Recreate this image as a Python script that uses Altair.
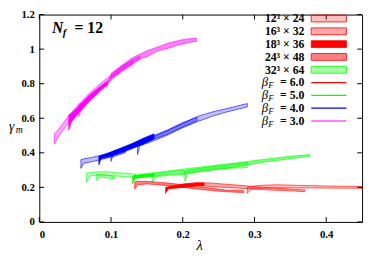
import altair as alt
import pandas as pd

# ---------------- data ----------------
betas = ["6.0", "5.0", "4.0", "3.0"]
beta_colors = ["#ff0000", "#00ff00", "#0000ff", "#ff00ff"]
volumes = ["12³ × 24", "16³ × 32", "18³ × 36", "24³ × 48", "32³ × 64"]
vol_opacity = [0.25, 0.35, 1.0, 0.5, 0.35]
vol_legend_beta = ["6.0", "6.0", "6.0", "6.0", "5.0"]

x_ticks = [0, 0.1, 0.2, 0.3, 0.4]
y_ticks = [0, 0.2, 0.4, 0.6, 0.8, 1.0, 1.2]

# beta_F = 3.0 (magenta)
m1_lam = [0.021, 0.026, 0.04, 0.055, 0.07, 0.085, 0.1, 0.115, 0.13]
m1_lo = [0.45, 0.49, 0.57, 0.64, 0.71, 0.77, 0.82, 0.87, 0.91]
m1_hi = [0.51, 0.53, 0.61, 0.68, 0.745, 0.80, 0.85, 0.895, 0.935]
m2_lam = [0.041, 0.045, 0.055, 0.07, 0.085, 0.095]
m2_lo = [0.53, 0.58, 0.63, 0.70, 0.76, 0.795]
m2_hi = [0.62, 0.63, 0.67, 0.735, 0.785, 0.815]
m3_lam = [0.055, 0.06, 0.075, 0.09]
m3_lo = [0.61, 0.66, 0.72, 0.775]
m3_hi = [0.68, 0.69, 0.745, 0.795]
m4_lam = [0.093, 0.1, 0.115, 0.13, 0.14, 0.15, 0.16, 0.17, 0.18, 0.19, 0.2, 0.21, 0.219]
m4_lo = [0.78, 0.83, 0.88, 0.92, 0.945, 0.955, 0.98, 0.995, 1.005, 1.02, 1.03, 1.04, 1.045]
m4_hi = [0.80, 0.85, 0.905, 0.95, 0.97, 0.99, 1.005, 1.02, 1.035, 1.045, 1.055, 1.06, 1.063]
m5_lam = [0.1, 0.11, 0.12, 0.13, 0.14]
m5_lo = [0.83, 0.86, 0.89, 0.915, 0.94]
m5_hi = [0.86, 0.89, 0.915, 0.94, 0.96]

# beta_F = 4.0 (blue)
b1_lam = [0.058, 0.062, 0.075, 0.09, 0.105, 0.12]
b1_lo = [0.31, 0.34, 0.35, 0.365, 0.38, 0.40]
b1_hi = [0.36, 0.365, 0.375, 0.39, 0.41, 0.43]
b2_lam = [0.083, 0.086, 0.1, 0.115, 0.13, 0.145, 0.16]
b2_lo = [0.33, 0.365, 0.38, 0.40, 0.425, 0.45, 0.48]
b2_hi = [0.38, 0.385, 0.405, 0.43, 0.455, 0.485, 0.51]
b3_lam = [0.1, 0.103, 0.12, 0.14, 0.16, 0.18, 0.2, 0.22]
b3_lo = [0.35, 0.39, 0.415, 0.445, 0.48, 0.51, 0.55, 0.585]
b3_hi = [0.40, 0.41, 0.435, 0.47, 0.50, 0.535, 0.575, 0.605]
b4_lam = [0.137, 0.14, 0.16, 0.18, 0.2, 0.22, 0.24, 0.26, 0.275, 0.29]
b4_lo = [0.39, 0.44, 0.47, 0.505, 0.545, 0.58, 0.61, 0.635, 0.65, 0.665]
b4_hi = [0.44, 0.46, 0.495, 0.53, 0.57, 0.61, 0.635, 0.655, 0.67, 0.685]

# beta_F = 5.0 (green)
g1_lam = [0.066, 0.07, 0.08, 0.095, 0.11, 0.125, 0.135]
g1_lo = [0.23, 0.265, 0.27, 0.27, 0.265, 0.26, 0.255]
g1_hi = [0.285, 0.285, 0.29, 0.29, 0.285, 0.28, 0.275]
g2_lam = [0.08, 0.084, 0.095, 0.105]
g2_lo = [0.24, 0.26, 0.255, 0.25]
g2_hi = [0.275, 0.275, 0.27, 0.262]
g3_lam = [0.13, 0.133, 0.145, 0.16]
g3_lo = [0.22, 0.25, 0.26, 0.265]
g3_hi = [0.265, 0.27, 0.275, 0.28]
g4_lam = [0.14, 0.16, 0.18, 0.2, 0.22, 0.24, 0.26, 0.29]
g4_lo = [0.255, 0.265, 0.275, 0.28, 0.29, 0.30, 0.31, 0.315]
g4_hi = [0.275, 0.285, 0.295, 0.305, 0.315, 0.325, 0.335, 0.345]
g5_lam = [0.158, 0.162, 0.18, 0.203]
g5_lo = [0.23, 0.26, 0.27, 0.275]
g5_hi = [0.275, 0.28, 0.29, 0.30]
g6_lam = [0.203, 0.207, 0.23, 0.26, 0.29, 0.32, 0.35, 0.377]
g6_lo = [0.235, 0.28, 0.295, 0.31, 0.33, 0.35, 0.365, 0.38]
g6_hi = [0.29, 0.30, 0.315, 0.33, 0.35, 0.365, 0.38, 0.39]

# beta_F = 6.0 (red)
r1_lam = [0.133, 0.137, 0.15, 0.165, 0.18, 0.2, 0.22, 0.24, 0.26, 0.285]
r1_lo = [0.19, 0.215, 0.22, 0.215, 0.21, 0.20, 0.19, 0.182, 0.175, 0.17]
r1_hi = [0.232, 0.235, 0.235, 0.23, 0.225, 0.215, 0.205, 0.195, 0.185, 0.18]
r2_lam = [0.176, 0.18, 0.19, 0.2, 0.21, 0.22, 0.23]
r2_lo = [0.165, 0.19, 0.195, 0.20, 0.205, 0.21, 0.21]
r2_hi = [0.20, 0.205, 0.212, 0.218, 0.222, 0.225, 0.225]
r3_lam = [0.2, 0.22, 0.24, 0.26, 0.28, 0.3, 0.32, 0.35, 0.37]
r3_lo = [0.20, 0.21, 0.205, 0.20, 0.195, 0.19, 0.185, 0.18, 0.175]
r3_hi = [0.22, 0.228, 0.225, 0.218, 0.212, 0.205, 0.198, 0.19, 0.185]
r4_lam = [0.29, 0.295, 0.31, 0.33, 0.36, 0.4, 0.45]
r4_lo = [0.165, 0.19, 0.195, 0.197, 0.197, 0.196, 0.195]
r4_hi = [0.20, 0.205, 0.212, 0.215, 0.212, 0.208, 0.205]

bands = [
    ("m1", "3.0", volumes[1], m1_lam, m1_lo, m1_hi),
    ("m2", "3.0", volumes[2], m2_lam, m2_lo, m2_hi),
    ("m3", "3.0", volumes[0], m3_lam, m3_lo, m3_hi),
    ("m4", "3.0", volumes[3], m4_lam, m4_lo, m4_hi),
    ("m5", "3.0", volumes[4], m5_lam, m5_lo, m5_hi),
    ("b1", "4.0", volumes[0], b1_lam, b1_lo, b1_hi),
    ("b2", "4.0", volumes[2], b2_lam, b2_lo, b2_hi),
    ("b3", "4.0", volumes[1], b3_lam, b3_lo, b3_hi),
    ("b4", "4.0", volumes[0], b4_lam, b4_lo, b4_hi),
    ("g1", "5.0", volumes[0], g1_lam, g1_lo, g1_hi),
    ("g2", "5.0", volumes[1], g2_lam, g2_lo, g2_hi),
    ("g3", "5.0", volumes[2], g3_lam, g3_lo, g3_hi),
    ("g4", "5.0", volumes[4], g4_lam, g4_lo, g4_hi),
    ("g5", "5.0", volumes[0], g5_lam, g5_lo, g5_hi),
    ("g6", "5.0", volumes[3], g6_lam, g6_lo, g6_hi),
    ("r1", "6.0", volumes[3], r1_lam, r1_lo, r1_hi),
    ("r2", "6.0", volumes[2], r2_lam, r2_lo, r2_hi),
    ("r3", "6.0", volumes[1], r3_lam, r3_lo, r3_hi),
    ("r4", "6.0", volumes[0], r4_lam, r4_lo, r4_hi),
]

op_of = dict(zip(volumes, vol_opacity))
rows = []
for bid, beta, vol, lam, lo, hi in bands:
    for a, b, c in zip(lam, lo, hi):
        rows.append({"band": bid, "beta": beta, "vol": vol, "op": op_of[vol],
                     "lam": a, "lo": b, "hi": c})
band_df = pd.DataFrame(rows)

# ---------------- layout ----------------
W, H = 330, 212
YMAX = 1.2
LEG_TOP, LEG_STEP, SW_H = 4, 13.1, 3.5
SERIF = "Liberation Serif"

xs = alt.Scale(domain=[0, 0.45], nice=False, zero=False)
ys = alt.Scale(domain=[0, YMAX], nice=False, zero=False)
cs = alt.Scale(domain=betas, range=beta_colors)

xaxis = alt.Axis(values=x_ticks, format="~g", title=None, ticks=False, domain=False, grid=False,
                 labelFont=SERIF, labelFontWeight="bold", labelFontSize=11, labelColor="black",
                 labelPadding=7)
yaxis = alt.Axis(values=y_ticks, format="~g", title=None, ticks=False, domain=False, grid=False,
                 labelFont=SERIF, labelFontWeight="bold", labelFontSize=11, labelColor="black",
                 labelPadding=5)

area = alt.Chart(band_df).mark_area(strokeWidth=0.6, interpolate="linear").encode(
    x=alt.X("lam:Q", scale=xs, axis=xaxis),
    y=alt.Y("lo:Q", scale=ys, axis=yaxis),
    y2="hi:Q",
    detail="band:N",
    color=alt.Color("beta:N", scale=cs, legend=None),
    stroke=alt.Stroke("beta:N", scale=cs, legend=None),
    fillOpacity=alt.FillOpacity("op:Q", scale=None, legend=None),
)

# inward ticks on all four sides
xt = pd.DataFrame({"v": x_ticks})
yt = pd.DataFrame({"v": y_ticks})
tick_x = alt.X("v:Q", scale=xs, axis=xaxis)
tick_y = alt.Y("v:Q", scale=ys, axis=yaxis)
t_left = alt.Chart(yt).mark_rule(color="black").encode(x=alt.value(0), x2=alt.value(5), y=tick_y)
t_right = alt.Chart(yt).mark_rule(color="black").encode(x=alt.value(W - 5), x2=alt.value(W), y=tick_y)
t_bot = alt.Chart(xt).mark_rule(color="black").encode(y=alt.value(H - 5), y2=alt.value(H), x=tick_x)
t_top = alt.Chart(xt).mark_rule(color="black").encode(y=alt.value(0), y2=alt.value(5), x=tick_x)

# legend
leg_vol = pd.DataFrame({"label": volumes, "beta": vol_legend_beta, "op": vol_opacity,
                        "row": list(range(len(volumes)))})
leg_beta = pd.DataFrame({"beta": betas, "eq": ["= " + b for b in betas],
                         "row": [len(volumes) + i for i in range(len(betas))]})


def leg_y(ch):
    return ch.transform_calculate(
        ly=f"{YMAX} - ({LEG_TOP} + {LEG_STEP} * datum.row) / {H} * {YMAX}"
    ).transform_calculate(
        ly_t=f"datum.ly + {SW_H} / {H} * {YMAX}",
        ly_b=f"datum.ly - {SW_H} / {H} * {YMAX}",
    )


LX = 271
vol_text = leg_y(alt.Chart(leg_vol)).mark_text(
    align="right", baseline="middle", font=SERIF, fontWeight="bold", fontSize=12, color="black"
).encode(x=alt.value(LX), y=alt.Y("ly:Q", scale=ys, axis=yaxis), text="label:N")
vol_sw = leg_y(alt.Chart(leg_vol)).mark_rect(strokeWidth=0.8).encode(
    x=alt.value(278), x2=alt.value(314),
    y=alt.Y("ly_t:Q", scale=ys, axis=yaxis), y2="ly_b:Q",
    color=alt.Color("beta:N", scale=cs, legend=None),
    stroke=alt.Stroke("beta:N", scale=cs, legend=None),
    fillOpacity=alt.FillOpacity("op:Q", scale=None, legend=None),
)
beta_eq = leg_y(alt.Chart(leg_beta)).mark_text(
    align="right", baseline="middle", font=SERIF, fontWeight="bold", fontSize=12, color="black"
).encode(x=alt.value(LX), y=alt.Y("ly:Q", scale=ys, axis=yaxis), text="eq:N")
beta_sym = leg_y(alt.Chart(leg_beta)).mark_text(
    align="right", baseline="middle", font=SERIF, fontStyle="italic", fontSize=13, color="black"
).encode(x=alt.value(234), y=alt.Y("ly:Q", scale=ys, axis=yaxis), text=alt.value("β"))
beta_sub = leg_y(alt.Chart(leg_beta)).mark_text(
    align="left", baseline="middle", font=SERIF, fontStyle="italic", fontSize=9, dy=3, color="black"
).encode(x=alt.value(234), y=alt.Y("ly:Q", scale=ys, axis=yaxis), text=alt.value("F"))
beta_line = leg_y(alt.Chart(leg_beta)).mark_rule(strokeWidth=1.2).encode(
    x=alt.value(278), x2=alt.value(314),
    y=alt.Y("ly:Q", scale=ys, axis=yaxis),
    color=alt.Color("beta:N", scale=cs, legend=None),
)

one = pd.DataFrame({"k": [0]})


def label(txt, x, y, size, style="normal", weight="normal", align="left"):
    return alt.Chart(one).mark_text(
        align=align, baseline="alphabetic", font=SERIF, fontSize=size,
        fontStyle=style, fontWeight=weight, color="black"
    ).encode(x=alt.value(x), y=alt.value(y), text=alt.value(txt))


ann = [
    label("N", 13, 19, 16, "italic", "bold"),
    label("f", 24, 22, 11, "italic", "bold"),
    label("= 12", 36, 19, 16, "normal", "bold"),
    label("γ", -31, 119, 14, "italic"),
    label("m", -24, 121, 10, "italic"),
    label("λ", 164, 241, 15, "italic", align="center"),
]

chart = alt.layer(
    area, t_left, t_right, t_bot, t_top,
    vol_sw, vol_text, beta_line, beta_eq, beta_sym, beta_sub, *ann
).properties(
    width=W, height=H,
    padding={"left": 32, "top": 4, "right": 4, "bottom": 28},
    autosize=alt.AutoSizeParams(type="none"),
).configure_view(stroke="black", strokeWidth=1)

chart.save("out.html", embed_options={"renderer": "svg", "actions": False})
